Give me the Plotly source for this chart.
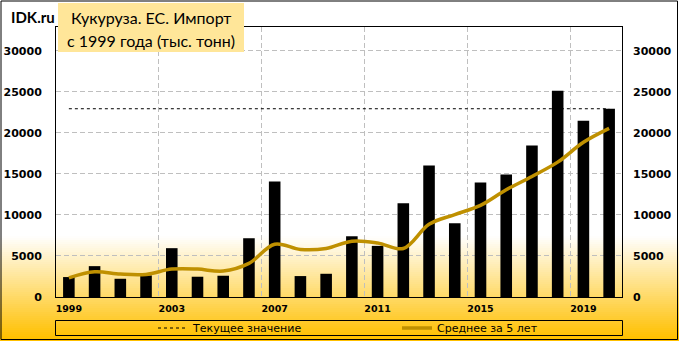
import plotly.graph_objects as go

# ---------------- data ----------------
years = list(range(1999, 2021))
imports = [2430, 3760, 2220, 2630, 5950, 2470, 2590, 7160, 14080, 2550, 2830,
           7400, 6230, 11410, 16020, 8980, 13960, 14930, 18450, 25130, 21490, 22940]
avg5 = [2340, 3070, 2790, 2750, 3400, 3400, 3160, 4090, 6430, 5790, 5910,
        6800, 6590, 5910, 8860, 10040, 11170, 13070, 14690, 16430, 18850, 20550]
label_years = [1999, 2003, 2007, 2011, 2015, 2019]
grid_years = [2002.5, 2006.5, 2010.5, 2014.5, 2018.5]
y_ticks = [0, 5000, 10000, 15000, 20000, 25000, 30000]
y_labels = ["0", "5000", "10000", "15000", "20000", "25000", "30000"]
title_lines = ["Кукуруза. ЕС. Импорт", "с 1999 года (тыс. тонн)"]
name_current = "Текущее значение"
name_avg = "Среднее за 5 лет"

# ---------------- geometry ----------------
W, H = 679, 341
L, R, T, B = 56, 622, 27, 297  # plot area in px


def px(x):
    return (x - L) / (R - L)


def py(y):
    return (B - y) / (B - T)


LINE_GOLD = "#BF9000"
GRID = "#BFBFBF"
tick_font = dict(family="DejaVu Sans", size=11, color="#000", weight="bold")

fig = go.Figure()

fig.add_trace(go.Bar(x=years, y=imports, marker=dict(color="#000", line=dict(width=0)),
                     width=0.45, showlegend=False, hoverinfo="x+y"))
fig.add_trace(go.Scatter(x=[years[0], years[-1]], y=[imports[-1], imports[-1]],
                         mode="lines", name=name_current,
                         line=dict(color="#000", width=1, dash="3px,3px"),
                         legend="legend"))
fig.add_trace(go.Scatter(x=years, y=avg5, mode="lines", name=name_avg,
                         line=dict(color=LINE_GOLD, width=3.5, shape="spline", smoothing=1),
                         legend="legend2"))
# helper trace for the overlay axes (vertical grid + right labels)
fig.add_trace(go.Scatter(x=years, y=imports, mode="none", xaxis="x2", yaxis="y2",
                         showlegend=False, hoverinfo="skip"))

# ---------------- background gradient ----------------
shapes = []
g0, g1 = 236, 338
step = 2
y = 230
while y < H:
    f = min(max((y + step / 2 - g0) / (g1 - g0), 0), 1)
    col = "rgb(255,%d,%d)" % (round(255 - f * (255 - 192)), round(255 - f * 255))
    shapes.append(dict(type="rect", xref="paper", yref="paper", layer="below",
                       x0=px(0), x1=px(W), y0=py(y + step + 0.5), y1=py(y),
                       fillcolor=col, line=dict(width=0)))
    y += step

# legend frame
shapes.append(dict(type="rect", xref="paper", yref="paper", layer="above",
                   x0=px(55.5), x1=px(622.5), y0=py(335.5), y1=py(320.5),
                   line=dict(color="#000", width=1), fillcolor="rgba(0,0,0,0)"))
# title box
shapes.append(dict(type="rect", xref="paper", yref="paper", layer="above",
                   x0=px(58), x1=px(244), y0=py(52), y1=py(3),
                   line=dict(width=0), fillcolor="#FFE699"))
# outer frame
shapes.append(dict(type="rect", xref="paper", yref="paper", layer="above",
                   x0=px(1), x1=px(677.5), y0=py(339.5), y1=py(1),
                   line=dict(color="#000", width=1), fillcolor="rgba(0,0,0,0)"))

annotations = [
    dict(text="IDK.ru", xref="paper", yref="paper", x=px(9), y=py(17),
         xanchor="left", yanchor="middle", showarrow=False,
         font=dict(family="Lato", size=15, color="#000", weight="bold")),
    dict(text=title_lines[0], xref="paper", yref="paper", x=px(151), y=py(17),
         xanchor="center", yanchor="middle", showarrow=False,
         font=dict(family="Lato", size=16, color="#000")),
    dict(text=title_lines[1], xref="paper", yref="paper", x=px(151), y=py(41),
         xanchor="center", yanchor="middle", showarrow=False,
         font=dict(family="Lato", size=16, color="#000")),
]

yr = [0, 32900]
xr = [years[0] - 0.5, years[-1] + 0.5]

fig.update_layout(
    width=W, height=H,
    margin=dict(l=L, r=W - R, t=T, b=H - B, pad=0, autoexpand=False),
    paper_bgcolor="#FFFFFF", plot_bgcolor="rgba(0,0,0,0)",
    shapes=shapes, annotations=annotations,
    xaxis=dict(range=xr, tickmode="array", tickvals=label_years,
               ticktext=[str(v) for v in label_years], showgrid=False,
               showline=True, linecolor="#000", linewidth=1, mirror=True,
               ticks="", tickfont=dict(family="DejaVu Sans", size=9.5, color="#000", weight="bold"),
               ticklabelstandoff=3, zeroline=False, automargin=False),
    xaxis2=dict(range=xr, overlaying="x", tickmode="array", tickvals=grid_years,
                showticklabels=False, showgrid=True, gridcolor=GRID, griddash="5px,3px",
                gridwidth=1, showline=False, ticks="", zeroline=False, anchor="y2",
                automargin=False),
    yaxis=dict(range=yr, tickmode="array", tickvals=y_ticks, ticktext=y_labels, showgrid=True,
               gridcolor=GRID, griddash="5px,3px", gridwidth=1,
               showline=True, linecolor="#000", linewidth=1, mirror=True,
               ticks="", tickfont=tick_font, ticklabelstandoff=11, zeroline=False,
               automargin=False),
    yaxis2=dict(range=yr, overlaying="y", side="right", tickmode="array", tickvals=y_ticks,
                ticktext=y_labels, showgrid=False, showline=False, ticks="", tickfont=tick_font,
                ticklabelstandoff=10, zeroline=False, anchor="x2", automargin=False),
    legend=dict(orientation="h", x=px(153), xanchor="left", y=py(328), yanchor="middle",
                bgcolor="rgba(0,0,0,0)", borderwidth=0,
                font=dict(family="DejaVu Sans", size=11, color="#000")),
    legend2=dict(orientation="h", x=px(397), xanchor="left", y=py(328), yanchor="middle",
                 bgcolor="rgba(0,0,0,0)", borderwidth=0,
                 font=dict(family="DejaVu Sans", size=11, color="#000")),
    showlegend=True,
)

fig.write_html("out.html")
